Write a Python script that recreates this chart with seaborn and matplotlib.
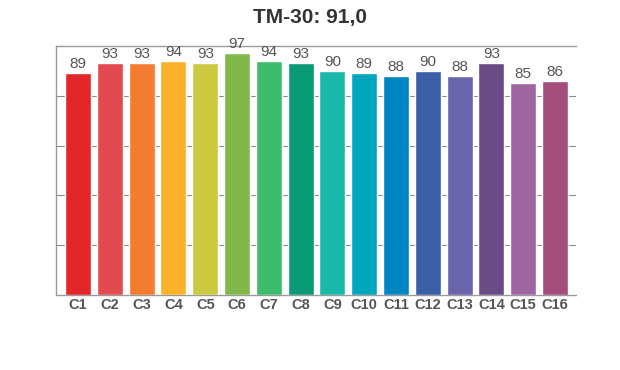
import matplotlib
matplotlib.use("Agg")
import matplotlib.pyplot as plt
import seaborn as sns
import pandas as pd

categories = ["C1", "C2", "C3", "C4", "C5", "C6", "C7", "C8",
              "C9", "C10", "C11", "C12", "C13", "C14", "C15", "C16"]
values = [89, 93, 93, 94, 93, 97, 94, 93, 90, 89, 88, 90, 88, 93, 85, 86]
colors = ["#e3262a", "#e34a4f", "#f47c30", "#fbb12a", "#cbc940", "#80b84a",
          "#3dbd6b", "#0a9a78", "#1ab8a8", "#00a6bd", "#0085c3", "#3a60a8",
          "#6a64ab", "#6b4b85", "#9f65a1", "#a44d7a"]
title = "TM-30: 91,0"

sns.set_theme(style="white")
plt.rcParams["font.family"] = ["Liberation Sans", "DejaVu Sans"]

df = pd.DataFrame({"cat": categories, "val": values})

fig = plt.figure(figsize=(6.2, 3.7), dpi=100)
ax = fig.add_axes([55.5 / 620, 75 / 370, 520.5 / 620, 249 / 370])

sns.barplot(data=df, x="cat", y="val", hue="cat", palette=colors,
            legend=False, width=0.82, saturation=1, ax=ax, zorder=3)

ax.set_ylim(0, 100)
ax.set_xlim(-0.71, 15.66)
ax.set_yticks([20, 40, 60, 80])
ax.set_yticklabels([])
ax.grid(axis="y", color="#8a8a8a", linewidth=0.8, zorder=0)
ax.set_xlabel("")
ax.set_ylabel("")
ax.tick_params(axis="both", length=0, pad=2.5)
for lbl in ax.get_xticklabels():
    lbl.set_fontweight("bold")
    lbl.set_color("#555555")
    lbl.set_fontsize(10.5)

for side in ["left", "bottom", "top"]:
    ax.spines[side].set_visible(True)
    ax.spines[side].set_color("#999999")
    ax.spines[side].set_linewidth(1.0)
ax.spines["right"].set_visible(False)

for i, v in enumerate(values):
    ax.text(i, v + 0.8, str(v), ha="center", va="bottom",
            fontsize=11, color="#555555", zorder=4)

fig.text(0.5, 1 - 17 / 370, title, ha="center", va="center",
         fontsize=15, fontweight="bold", color="#333333")

fig.savefig("out.png", dpi=100)
